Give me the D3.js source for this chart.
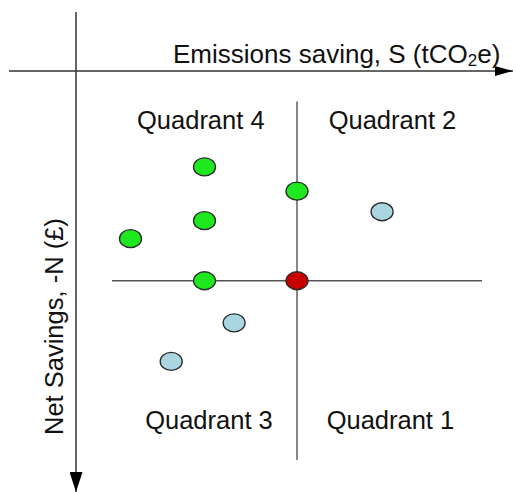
<!DOCTYPE html>
<html>
<head>
<meta charset="utf-8">
<script src="https://cdn.jsdelivr.net/npm/d3@7"></script>
<style>
  html, body { margin: 0; padding: 0; background: #fff; }
  text { font-family: "Liberation Sans", Arial, sans-serif; fill: #111; }
</style>
</head>
<body>
<div id="chart"></div>
<script>
(function() {

  // point positions in chart units (origin = red reference point)
  const pointX = [-5, 0, 4.6, -5, -9, -5, 0, -3.4, -6.8];
  const pointY = [6.35, 5, 3.85, 3.35, 2.35, 0, 0, -2.35, -4.5];
  const pointKind = ['green', 'green', 'blue', 'green', 'green', 'green', 'red', 'blue', 'blue'];

  const quadrantNames = ['Quadrant 4', 'Quadrant 2', 'Quadrant 3', 'Quadrant 1'];
  const quadrantTop = [true, true, false, false];

  const xLabel = 'Emissions saving, S (tCO';
  const yLabel = 'Net Savings, -N (\u00a3)';

  const kindColors = d3.scaleOrdinal()
    .domain(['green', 'blue', 'red'])
    .range(['#1ee81e', '#a9d6e0', '#c80000']);

  const size = { x: 516, y: 492 };
  // label centres (chart units), layout only
  const labelX = [-5.2, 5.16, -4.76, 5.05];

  // inner quadrant cross
  const xScale = d3.scaleLinear().domain([-10, 10]).range([112, 482]);
  const yScale = d3.scaleLinear().domain([-10, 10]).range([460, 101.5]);

  const svg = d3.select('#chart')
    .append('svg')
    .attr('width', size.x)
    .attr('height', size.y);

  const defs = svg.append('defs');
  function addArrow(id, len, half) {
    defs.append('marker')
      .attr('id', id)
      .attr('viewBox', `0 0 ${len} ${half * 2}`)
      .attr('refX', len)
      .attr('refY', half)
      .attr('markerUnits', 'userSpaceOnUse')
      .attr('markerWidth', len)
      .attr('markerHeight', half * 2)
      .attr('orient', 'auto')
      .append('path')
        .attr('d', `M0,0 L${len},${half} L0,${half * 2} Z`)
        .attr('fill', '#000');
  }
  addArrow('arrowX', 18, 5);
  addArrow('arrowY', 20, 6.5);

  // main axes
  svg.append('line')
    .attr('x1', 9).attr('x2', 513)
    .attr('y1', 71).attr('y2', 71)
    .attr('stroke', '#333').attr('stroke-width', 1.5)
    .attr('marker-end', 'url(#arrowX)');
  svg.append('line')
    .attr('x1', 76).attr('x2', 76)
    .attr('y1', 12).attr('y2', 492)
    .attr('stroke', '#333').attr('stroke-width', 1.5)
    .attr('marker-end', 'url(#arrowY)');

  // quadrant cross
  svg.append('line')
    .attr('x1', xScale(-10)).attr('x2', xScale(10))
    .attr('y1', yScale(0)).attr('y2', yScale(0))
    .attr('stroke', '#555').attr('stroke-width', 1.4);
  svg.append('line')
    .attr('x1', xScale(0)).attr('x2', xScale(0))
    .attr('y1', yScale(10)).attr('y2', yScale(-10))
    .attr('stroke', '#555').attr('stroke-width', 1.4);

  // axis titles
  const xt = svg.append('text')
    .attr('x', 173)
    .attr('y', 63)
    .attr('font-size', 26);
  xt.append('tspan').text(xLabel);
  xt.append('tspan').text('2').attr('font-size', 17).attr('dy', 3);
  xt.append('tspan').text('e)').attr('dy', -3);

  svg.append('text')
    .attr('transform', 'translate(63, 435) rotate(-90)')
    .attr('font-size', 25.5)
    .text(yLabel);

  // quadrant labels
  svg.selectAll('.quadrant')
    .data(quadrantNames)
    .enter()
    .append('text')
      .attr('class', 'quadrant')
      .attr('x', (d, i) => xScale(labelX[i]))
      .attr('y', (d, i) => quadrantTop[i] ? 129 : 429)
      .attr('text-anchor', 'middle')
      .attr('font-size', 25.5)
      .text(d => d);

  // points
  svg.selectAll('.point')
    .data(pointX.map((x, i) => ({ x: x, y: pointY[i], kind: pointKind[i] })))
    .enter()
    .append('ellipse')
      .attr('class', 'point')
      .attr('cx', d => xScale(d.x))
      .attr('cy', d => yScale(d.y))
      .attr('rx', 11)
      .attr('ry', 9)
      .attr('fill', d => kindColors(d.kind))
      .attr('stroke', '#2a2a2a')
      .attr('stroke-width', 1.3);
}());
</script>
</body>
</html>
